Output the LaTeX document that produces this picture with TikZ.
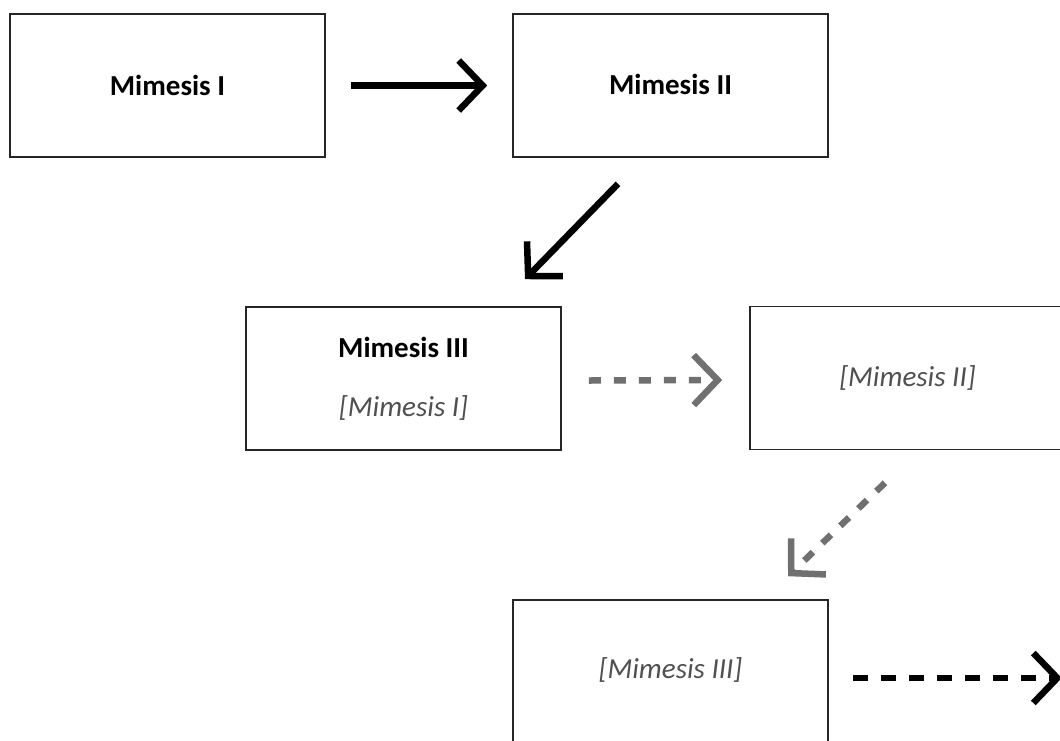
\documentclass[tikz,border=0pt]{standalone}
\usepackage{fontspec}
\setmainfont{Carlito}
\usetikzlibrary{arrows.meta}
\definecolor{arrowgray}{RGB}{112,112,112}
\definecolor{textgray}{RGB}{80,80,80}
\tikzset{
	mimbox/.style={draw=black!85, line width=1.6pt, minimum width=315pt, minimum height=143pt, inner sep=0pt, align=center, font=\fontsize{29}{34}\selectfont},
	bigarrow/.style={line width=6.5pt, -{Straight Barb[length=24pt,width=50pt,line width'=6.5pt]}},
	dasharrow/.style={bigarrow, dash pattern=on 12pt off 13pt}
}
\begin{document}
\begin{tikzpicture}[x=1pt,y=1pt]
	\clip (0,0) rectangle (1060,-740);
	\fill [white] (0,0) rectangle (1060,-740);
	% boxes
	\node [mimbox] (mim1) at (167.5,-85.5) {\textbf{Mimesis I}};
	\node [mimbox] (mim2) at (670.5,-85.5) {\raisebox{3pt}{\textbf{Mimesis II}}};
	\node [mimbox] (mim3) at (403.5,-378.5) {\textbf{Mimesis III}\\[25pt]{\color{textgray}\itshape [Mimesis I]}};
	\node [mimbox] (mim4) at (907.5,-378) {\color{textgray}\itshape [Mimesis II]};
	\node [mimbox] (mim5) at (670.5,-671.5) {\raisebox{6pt}{\color{textgray}\itshape [Mimesis III]}};
	% arrows
	\draw [bigarrow] ([xshift=25pt]mim1.east) -- ([xshift=-25pt]mim2.west);
	\draw [bigarrow] ([shift={(-52.5,-26)}]mim2.south) -- ([shift={(121.5,27)}]mim3.north);
	\draw [dasharrow, color=arrowgray] ([shift={(27,-2)}]mim3.east) -- ([shift={(-27,-2)}]mim4.west);
	\draw [dasharrow, color=arrowgray] ([shift={(-22.5,-32.5)}]mim4.south) -- ([shift={(117.5,23)}]mim5.north);
	\draw [dasharrow, dash pattern=on 15pt off 13pt] ([shift={(24,-6.5)}]mim5.east) -- ([shift={(233,-6.5)}]mim5.east);
\end{tikzpicture}
\end{document}
